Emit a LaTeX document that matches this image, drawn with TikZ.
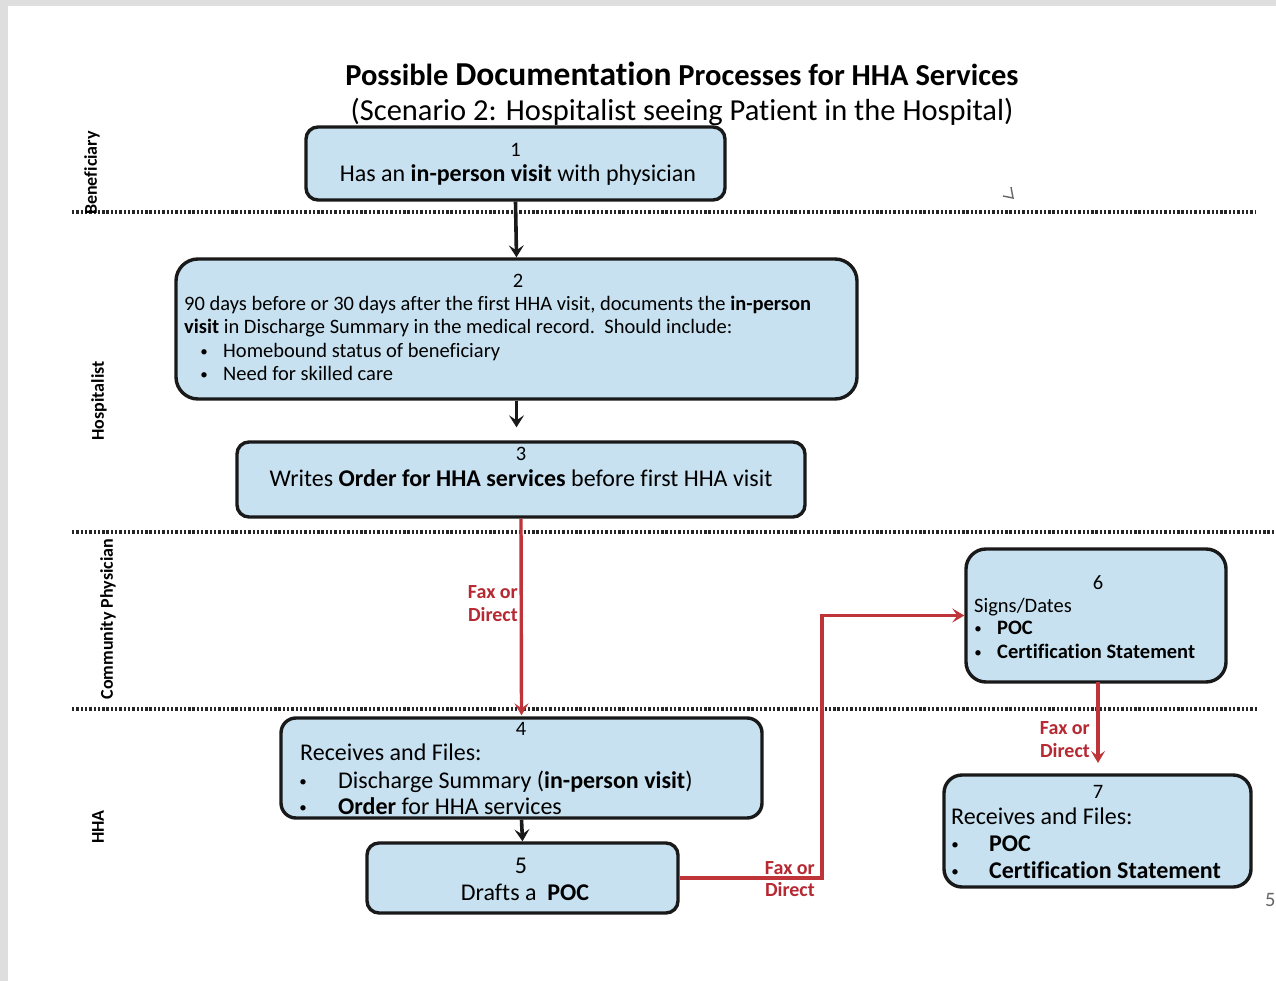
\documentclass[tikz,border=0pt]{standalone}
\usepackage{fontspec}
\setmainfont{Carlito}[Ligatures=NoCommon]
\usetikzlibrary{arrows.meta}
\definecolor{boxblue}{RGB}{199,225,240}
\definecolor{redline}{RGB}{190,52,56}
\definecolor{redtext}{RGB}{182,40,50}
\definecolor{scan}{RGB}{222,222,222}
\newcommand{\smbul}{{\fontsize{15}{15}\selectfont •}}
\begin{document}
\begin{tikzpicture}[x=1pt,y=-1pt,
  box/.style={draw=black!90, line width=3.4pt, fill=boxblue, inner sep=0pt},
  fa/.style={font=\fontsize{24}{28}\selectfont, inner sep=0pt},
  fb/.style={font=\fontsize{20.5}{24}\selectfont, inner sep=0pt},
  fc/.style={font=\fontsize{20.5}{24}\selectfont, inner sep=0pt},
  lane/.style={font=\bfseries\fontsize{18}{22}\selectfont, rotate=90, inner sep=0pt},
  redlab/.style={font=\bfseries\fontsize{20}{24}\selectfont, text=redtext, inner sep=0pt, anchor=base east},
  dotline/.style={line width=3.4pt, dash pattern=on 2.4pt off 1.9pt, black!85},
  blk/.style={line width=3.6pt, black!90, -{Stealth[length=12pt,width=15pt,inset=5pt]}},
  rd/.style={line width=3.4pt, redline, -{Stealth[length=12pt,width=14pt,inset=5pt]}}
]
\useasboundingbox (0,0) rectangle (1276,981);
\fill[white] (0,0) rectangle (1276,981);
\fill[scan] (0,0) rectangle (1276,6);
\fill[scan] (0,0) rectangle (8,981);

% title
\node[anchor=base, inner sep=0pt] (title) at (682,86) {\bfseries\fontsize{30.5}{34}\selectfont Possible {\fontsize{33.5}{36}\selectfont Documentation} Processes for HHA Services};
\node[anchor=base, inner sep=0pt] (subtitle) at (682,121) {\fontsize{30.5}{34}\selectfont (Scenario 2: Hospitalist seeing Patient in the Hospital)};

% lane separators
\draw[dotline] (72,212) -- (1255,212);
\draw[dotline] (72,532) -- (1276,532);
\draw[dotline] (72,709) -- (1258,709);

% lane labels
\node[lane] (l1) at (92,173) {Beneficiary};
\node[lane] (l2) at (99,401) {Hospitalist};
\node[lane] (l3) at (108,619) {Community Physician};
\node[lane] (l4) at (98,827) {HHA};

% boxes
\node[box, rounded corners=12pt, minimum width=419pt, minimum height=73pt] (b1) at (515.5,163.5) {};
\node[box, rounded corners=22pt, minimum width=681pt, minimum height=140pt] (b2) at (516.5,329) {};
\node[box, rounded corners=12pt, minimum width=568pt, minimum height=75pt] (b3) at (521,479.5) {};
\node[box, rounded corners=15pt, minimum width=481pt, minimum height=100pt] (b4) at (521.5,768) {};
\node[box, rounded corners=12pt, minimum width=311pt, minimum height=70pt] (b5) at (522.5,878) {};
\node[box, rounded corners=20pt, minimum width=260pt, minimum height=133pt] (b6) at (1096,615.5) {};
\node[box, rounded corners=18pt, minimum width=307pt, minimum height=112pt] (b7) at (1097.5,831) {};

% box 1 text
\node[fb, anchor=base] (n1) at (515.5,156.5) {1};
\node[fa, anchor=base] (t1) at (518,182) {Has an \textbf{in-person visit} with physician};

% box 2 text
\node[fb, anchor=base] (n2) at (518,287.5) {2};
\node[fb, anchor=base west] (t2a) at (184,311) {90 days before or 30 days after the first HHA visit, documents the \textbf{in-person}};
\node[fb, anchor=base west] (t2b) at (184,334) {\textbf{visit} in Discharge Summary in the medical record.\ \ Should include:};
\node[fb, anchor=base] (u2a) at (204,356) {\smbul};
\node[fb, anchor=base west] (t2c) at (223,357) {Homebound status of beneficiary};
\node[fb, anchor=base] (u2b) at (204,379) {\smbul};
\node[fb, anchor=base west] (t2d) at (223,380) {Need for skilled care};

% box 3 text
\node[fb, anchor=base] (n3) at (521,460) {3};
\node[fa, anchor=base] (t3) at (521,486) {Writes \textbf{Order for HHA services} before first HHA visit};

% box 4 text
\node[fb, anchor=base] (n4) at (521,735) {4};
\node[fa, anchor=base west] (t4a) at (300,760) {Receives and Files:};
\node[fa, anchor=base] (u4a) at (303,786) {\smbul};
\node[fa, anchor=base west] (t4b) at (338,788) {Discharge Summary (\textbf{in-person visit})};
\node[fa, anchor=base] (u4b) at (303,812) {\smbul};
\node[fa, anchor=base west] (t4c) at (338,814) {\textbf{Order} for HHA services};

% box 5 text
\node[fa, anchor=base] (n5) at (521,873) {5};
\node[fa, anchor=base] (t5) at (525,900) {Drafts a\ \ \textbf{POC}};

% box 6 text
\node[fb, anchor=base] (n6) at (1098,589) {6};
\node[fb, anchor=base west] (t6a) at (974,612) {Signs/Dates};
\node[fb, anchor=base] (u6a) at (978,633) {\smbul};
\node[fc, anchor=base west] (t6b) at (997,634) {\textbf{POC}};
\node[fb, anchor=base] (u6b) at (978,657) {\smbul};
\node[fc, anchor=base west] (t6c) at (997,658) {\textbf{Certification Statement}};

% box 7 text
\node[fb, anchor=base] (n7) at (1098,798) {7};
\node[fa, anchor=base west] (t7a) at (951,824) {Receives and Files:};
\node[fa, anchor=base] (u7a) at (955,849) {\smbul};
\node[fa, anchor=base west] (t7b) at (989,851) {\textbf{POC}};
\node[fa, anchor=base] (u7b) at (955,876) {\smbul};
\node[fa, anchor=base west] (t7c) at (989,878) {\textbf{Certification Statement}};

% black connectors
\draw[blk] (b1.south) -- (b2.north);
\draw[blk, shorten >=13pt] (b2.south) -- (b2.south |- b3.north);
\draw[blk] (b4.south) -- (b5.north);

% red connectors
\draw[rd, shorten >=1pt] (b3.south) -- (b4.north);
\node[redlab] (r1a) at (518,598) {Fax or};
\node[redlab] (r1b) at (518,621) {Direct};

\coordinate (c56) at (822,878);
\draw[rd] (b5.east) -- (c56) |- (b6.west);
\node[redlab] (r2a) at (815,874) {Fax or};
\node[redlab] (r2b) at (815,896) {Direct};

\draw[rd, shorten >=12pt] (1098,682) -- (1098,775);
\node[redlab] (r3a) at (1090,734) {Fax or};
\node[redlab] (r3b) at (1090,757) {Direct};

% scan marks
\draw[black!60, line width=1.4pt] (1003,196) -- (1013,198) -- (1011,187);
\node[fb, text=black!60, anchor=base west] (pg) at (1265,906) {5};
\end{tikzpicture}
\end{document}
